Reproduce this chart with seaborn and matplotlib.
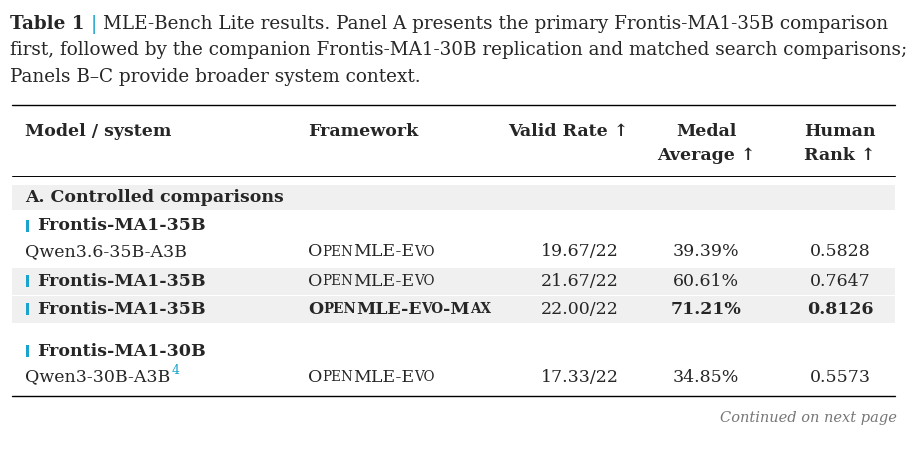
import matplotlib
matplotlib.use("Agg")
import matplotlib.pyplot as plt
import seaborn as sns
from matplotlib.patches import Rectangle

sns.set_theme(style="white")
plt.rcParams['font.family'] = ['DejaVu Serif']

BLUE = "#1aa3cc"
models = ["Frontis-MA1-35B", "Qwen3.6-35B-A3B", "Frontis-MA1-35B", "Frontis-MA1-35B", "Frontis-MA1-30B", "Qwen3-30B-A3B"]
frameworks = ["", "OpenMLE-Evo", "OpenMLE-Evo", "OpenMLE-Evo-Max", "", "OpenMLE-Evo"]
valid_rates = ["", "19.67/22", "21.67/22", "22.00/22", "", "17.33/22"]
medal_avg = ["", "39.39%", "60.61%", "71.21%", "", "34.85%"]
human_rank = ["", "0.5828", "0.7647", "0.8126", "", "0.5573"]
row_y = [226, 252, 281, 309, 351, 377]
marked = [True, False, True, True, True, False]
bold = [True, False, True, True, True, False]
shaded = [False, False, True, True, False, False]

fig = plt.figure(figsize=(9.23, 4.54), dpi=100)
ax = fig.add_axes([0, 0, 1, 1])
ax.set_xlim(0, 923); ax.set_ylim(454, 0); ax.axis("off")
fig.canvas.draw()
R = fig.canvas.get_renderer()
FS = 12.5

def width(t):
    return t.get_window_extent(R).width

def seq(x, y, parts, fs=FS):
    for s, kw in parts:
        t = ax.text(x, y, s, fontsize=kw.pop('fs', fs), va='center', **kw)
        x += width(t)
    return x

def smallcaps(x, y, s, weight='normal', fs=FS, ha='left'):
    runs = []
    for ch in s:
        small = ch.islower()
        if runs and runs[-1][1] == small:
            runs[-1][0] += ch
        else:
            runs.append([ch, small])
    parts = [(r.upper(), dict(fs=fs * 0.78 if sm else fs, weight=weight)) for r, sm in runs]
    return seq(x, y, parts, fs)

# caption
cap = 13.2
x = seq(10, 24, [("Table 1 ", dict(weight='bold', fs=cap)), ("| ", dict(color=BLUE, fs=cap)),
                 ("MLE-Bench Lite results. Panel A presents the primary Frontis-MA1-35B comparison", dict(fs=cap))])
ax.text(10, 50, "first, followed by the companion Frontis-MA1-30B replication and matched search comparisons;", fontsize=cap, va='center')
ax.text(10, 77, "Panels B–C provide broader system context.", fontsize=cap, va='center')

# rules
ax.plot([12, 895], [105, 105], color='black', lw=1.0)
ax.plot([12, 895], [176, 176], color='black', lw=0.7)
ax.plot([12, 895], [396, 396], color='black', lw=1.0)

# headers
hb = dict(weight='bold', fontsize=FS, va='center')
ax.text(25, 131, "Model / system", **hb)
ax.text(308, 131, "Framework", **hb)
ax.text(628, 131, "Valid Rate ↑", ha='right', **hb)
ax.text(706, 131, "Medal", ha='center', **hb)
ax.text(706, 155, "Average ↑", ha='center', **hb)
ax.text(840, 131, "Human", ha='center', **hb)
ax.text(840, 155, "Rank ↑", ha='center', **hb)

# section header
ax.add_patch(Rectangle((12, 185), 883, 25, color='#f0f0f0', lw=0))
ax.text(25, 197, "A. Controlled comparisons", **hb)

for i, y in enumerate(row_y):
    if shaded[i]:
        ax.add_patch(Rectangle((12, y - 13.5), 883, 27.5, color='#f0f0f0', lw=0))
    w = 'bold' if bold[i] else 'normal'
    xm = 25
    if marked[i]:
        ax.add_patch(Rectangle((26, y - 6), 2.5, 12, color=BLUE, lw=0))
        xm = 37
    t = ax.text(xm, y, models[i], fontsize=FS, weight=w, va='center')
    if models[i] == "Qwen3-30B-A3B":
        ax.text(xm + width(t) + 1, y - 7, "4", color=BLUE, fontsize=9, va='center')
    best = models[i] and i == 3
    if frameworks[i]:
        smallcaps(308, y, frameworks[i], weight='bold' if best else 'normal')
    ax.text(580, y, valid_rates[i], ha='center', va='center', fontsize=FS)
    ax.text(706, y, medal_avg[i], ha='center', va='center', fontsize=FS, weight='bold' if best else 'normal')
    ax.text(840, y, human_rank[i], ha='center', va='center', fontsize=FS, weight='bold' if best else 'normal')

ax.text(897, 418, "Continued on next page", ha='right', va='center', fontsize=10.5, style='italic', color='#777777')

fig.savefig("out.png", dpi=100, facecolor='white')
